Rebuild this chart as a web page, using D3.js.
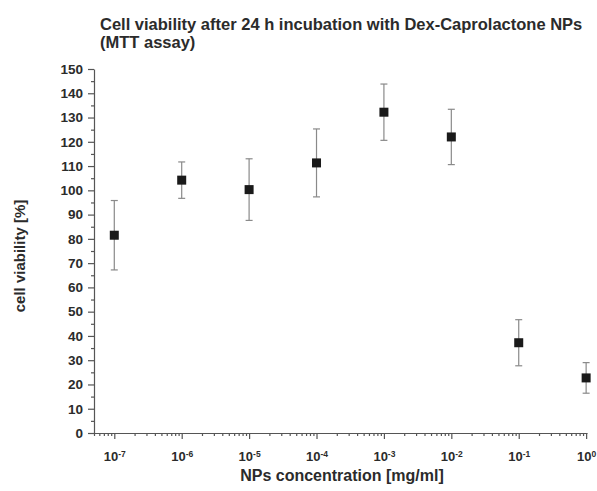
<!DOCTYPE html>
<html>
<head>
<meta charset="utf-8">
<script src="https://cdn.jsdelivr.net/npm/d3@7"></script>
<style>
  body { margin: 0; background: #fff; }
  svg text { font-family: "Liberation Sans", Arial, sans-serif; fill: #2b2b2b; }
  .axis path, .axis line { stroke: #555; stroke-width: 1.2; }
</style>
</head>
<body>
<div id="chart"></div>
<script>
// data
var concentrations = [1e-7, 1e-6, 1e-5, 1e-4, 1e-3, 1e-2, 1e-1, 1];
var viability = [81.5, 104.2, 100.3, 111.3, 132.2, 122.0, 37.2, 22.7];
var sd = [14.3, 7.5, 12.7, 14.0, 11.6, 11.4, 9.5, 6.3];
var xExponents = [-7, -6, -5, -4, -3, -2, -1, 0];
var yTicks = d3.range(0, 151, 10);

var W = 597, H = 491;
var margin = { top: 69, right: 10, bottom: 58, left: 94 };
var width = W - margin.left - margin.right;
var height = H - margin.top - margin.bottom;

var svg = d3.select("#chart").append("svg")
  .attr("width", W)
  .attr("height", H);

var g = svg.append("g")
  .attr("transform", "translate(" + margin.left + "," + margin.top + ")");

var x = d3.scaleLog()
  .domain([5e-8, 1.03])
  .range([0, width]);

var y = d3.scaleLinear()
  .domain([0, 150])
  .range([height, 0]);

// minor ticks first
var minorX = [];
for (var e = -8; e <= 0; e++) {
  for (var m = 2; m <= 9; m++) {
    var v = m * Math.pow(10, e);
    if (v >= 5e-8 && v <= 1) minorX.push(v);
  }
}
g.append("g")
  .attr("class", "axis")
  .attr("transform", "translate(0," + height + ")")
  .call(d3.axisBottom(x).tickValues(minorX).tickSize(3).tickFormat(""))
  .select(".domain").remove();

g.append("g")
  .attr("class", "axis")
  .call(d3.axisLeft(y).tickValues(d3.range(5, 150, 10)).tickSize(3).tickFormat(""))
  .select(".domain").remove();

// major x axis
var xAxis = g.append("g")
  .attr("class", "axis x")
  .attr("transform", "translate(0," + height + ")")
  .call(d3.axisBottom(x)
    .tickValues(concentrations)
    .tickSize(6)
    .tickSizeOuter(0)
    .tickPadding(9)
    .tickFormat(""));

xAxis.selectAll(".tick text")
  .data(xExponents)
  .attr("font-size", 13)
  .attr("font-weight", "bold")
  .attr("fill", "#444")
  .attr("dy", "1em")
  .each(function (d) {
    var t = d3.select(this);
    t.append("tspan").text("10");
    t.append("tspan").attr("dy", "-0.5em").attr("font-size", 8.5).text(d);
  });

// major y axis
var yAxis = g.append("g")
  .attr("class", "axis y")
  .call(d3.axisLeft(y)
    .tickValues(yTicks)
    .tickSize(6)
    .tickSizeOuter(0)
    .tickPadding(5));

yAxis.selectAll(".tick text")
  .attr("font-size", 13.5)
  .attr("font-weight", "bold")
  .attr("fill", "#444");

// error bars
var pts = concentrations.map(function (c, i) {
  return { c: c, v: viability[i], sd: sd[i] };
});

var bars = g.selectAll(".err")
  .data(pts)
  .enter().append("g")
  .attr("class", "err")
  .attr("stroke", "#8a8a8a")
  .attr("stroke-width", 1.2);

bars.append("line")
  .attr("x1", function (d) { return x(d.c); })
  .attr("x2", function (d) { return x(d.c); })
  .attr("y1", function (d) { return y(d.v + d.sd); })
  .attr("y2", function (d) { return y(d.v - d.sd); });

bars.append("line")
  .attr("x1", function (d) { return x(d.c) - 3.5; })
  .attr("x2", function (d) { return x(d.c) + 3.5; })
  .attr("y1", function (d) { return y(d.v + d.sd); })
  .attr("y2", function (d) { return y(d.v + d.sd); });

bars.append("line")
  .attr("x1", function (d) { return x(d.c) - 3.5; })
  .attr("x2", function (d) { return x(d.c) + 3.5; })
  .attr("y1", function (d) { return y(d.v - d.sd); })
  .attr("y2", function (d) { return y(d.v - d.sd); });

// square markers
g.selectAll(".pt")
  .data(pts)
  .enter().append("rect")
  .attr("class", "pt")
  .attr("x", function (d) { return x(d.c) - 4.5; })
  .attr("y", function (d) { return y(d.v) - 4.5; })
  .attr("width", 9)
  .attr("height", 9)
  .attr("fill", "#1a1a1a");

// titles
svg.append("text")
  .attr("x", 100)
  .attr("y", 30)
  .attr("font-size", 16.5)
  .attr("font-weight", "bold")
  .attr("fill", "#222")
  .text("Cell viability after 24 h incubation with Dex-Caprolactone NPs");

svg.append("text")
  .attr("x", 100)
  .attr("y", 48)
  .attr("font-size", 16.5)
  .attr("font-weight", "bold")
  .attr("fill", "#222")
  .text("(MTT assay)");

svg.append("text")
  .attr("x", 342)
  .attr("y", 481)
  .attr("text-anchor", "middle")
  .attr("font-size", 16)
  .attr("font-weight", "bold")
  .attr("fill", "#333")
  .text("NPs concentration [mg/ml]");

svg.append("text")
  .attr("transform", "translate(25,256) rotate(-90)")
  .attr("text-anchor", "middle")
  .attr("font-size", 15)
  .attr("font-weight", "bold")
  .attr("fill", "#333")
  .text("cell viability [%]");
</script>
</body>
</html>
